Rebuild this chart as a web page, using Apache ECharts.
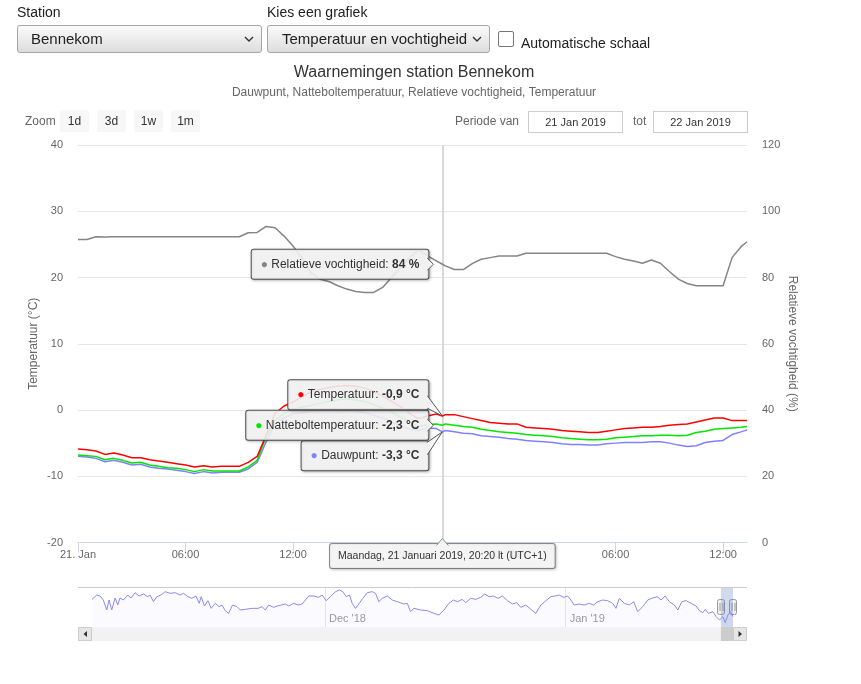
<!DOCTYPE html>
<html><head><meta charset="utf-8"><title>Waarnemingen station Bennekom</title>
<script src="https://cdn.jsdelivr.net/npm/echarts@6.0.0/dist/echarts.min.js"></script>
<style>
html,body{margin:0;padding:0;background:#fff;}
body{width:861px;height:684px;position:relative;overflow:hidden;font-family:'Liberation Sans',Arial,Helvetica,sans-serif;}
#chart{position:absolute;left:0;top:0;width:861px;height:684px;}
.abs{position:absolute;white-space:nowrap;}
.lab{font-size:14px;color:#222;line-height:16px;}
.sel{box-sizing:border-box;height:28px;top:25px;border:1px solid #a6a6a6;border-radius:3px;background:linear-gradient(#fbfbfb,#dddddd);font-size:15px;color:#222;line-height:26px;}
.sel svg{position:absolute;top:10px;}
.btn{top:110px;width:29px;height:22px;line-height:22px;background:#f7f7f7;border-radius:2px;text-align:center;font-size:12px;color:#333;}
.inp{top:111px;box-sizing:border-box;width:95px;height:22px;border:1px solid #cccccc;text-align:center;font-size:11px;line-height:20px;color:#333;background:#fff;}
.rs{font-size:12px;color:#666;line-height:14px;top:114px;}
</style></head>
<body>
<div id="chart"></div>
<div class="abs lab" style="left:17px;top:4px">Station</div>
<div class="abs lab" style="left:267px;top:4px">Kies een grafiek</div>
<div class="abs sel" style="left:17px;width:245px;padding-left:13px">Bennekom<svg style="left:226px" width="10" height="7"><polyline points="1,1 5,5 9,1" fill="none" stroke="#333" stroke-width="1.4"/></svg></div>
<div class="abs sel" style="left:267px;width:223px;padding-left:14px">Temperatuur en vochtigheid<svg style="left:204px" width="10" height="7"><polyline points="1,1 5,5 9,1" fill="none" stroke="#333" stroke-width="1.4"/></svg></div>
<div class="abs" style="left:498px;top:31px;width:16px;height:16px;box-sizing:border-box;border:1px solid #767676;border-radius:2px;background:#fff"></div>
<div class="abs lab" style="left:521px;top:35px">Automatische schaal</div>
<div class="abs rs" style="left:25px">Zoom</div>
<div class="abs btn" style="left:60px">1d</div>
<div class="abs btn" style="left:97px">3d</div>
<div class="abs btn" style="left:134px">1w</div>
<div class="abs btn" style="left:171px">1m</div>
<div class="abs rs" style="left:455px">Periode van</div>
<div class="abs inp" style="left:528px">21 Jan 2019</div>
<div class="abs rs" style="left:633px">tot</div>
<div class="abs inp" style="left:653px">22 Jan 2019</div>
<script>
// ---------- data (hours since 21 Jan 2019 00:00) ----------
const hours = [0,0.5,1,1.5,2,2.5,3,3.5,4,4.5,5,5.5,6,6.5,7,7.5,8,8.5,9,9.5,10,10.5,11,11.5,12,12.5,13,13.5,14,14.5,15,15.5,16,16.5,17,17.5,18,18.5,19,19.5,20,20.3333,20.5,21,21.5,22,22.5,23,23.5,24,24.5,25,25.5,26,26.5,27,27.5,28,28.5,29,29.5,30,30.5,31,31.5,32,32.5,33,33.5,34,34.5,35,35.5,36,36.5,37,37.3333];
const temperatuur = [-5.9,-6.0,-6.2,-6.7,-6.5,-6.8,-7.2,-7.2,-7.5,-7.7,-7.9,-8.1,-8.3,-8.6,-8.4,-8.6,-8.5,-8.5,-8.5,-7.9,-7.0,-3.8,-0.5,0.6,1.2,2.0,2.7,3.1,3.4,3.6,3.7,3.6,3.3,2.8,2.1,1.3,0.5,-0.5,-1.3,-0.9,-0.6,-0.9,-0.7,-0.7,-1.0,-1.3,-1.6,-1.9,-2.0,-2.1,-2.1,-2.6,-2.7,-2.8,-2.9,-3.1,-3.2,-3.3,-3.4,-3.4,-3.2,-3.0,-2.8,-2.7,-2.6,-2.6,-2.5,-2.3,-2.2,-2.1,-1.8,-1.5,-1.2,-1.2,-1.6,-1.6,-1.6];
const nattebol = [-6.8,-6.9,-7.0,-7.5,-7.3,-7.6,-8.0,-7.9,-8.3,-8.5,-8.7,-8.8,-9.0,-9.3,-9.0,-9.2,-9.2,-9.2,-9.2,-8.6,-7.6,-4.0,-1.6,-0.5,0.1,0.4,0.7,1.0,1.3,1.5,1.7,1.5,1.3,0.8,0.3,-0.3,-1.1,-1.8,-2.5,-2.2,-2.1,-2.3,-2.1,-2.3,-2.5,-2.6,-2.9,-3.1,-3.3,-3.4,-3.5,-3.7,-3.8,-3.9,-4.0,-4.2,-4.3,-4.4,-4.5,-4.5,-4.4,-4.2,-4.1,-4.0,-3.9,-3.9,-3.8,-3.8,-3.9,-3.8,-3.4,-3.2,-2.9,-2.8,-2.7,-2.6,-2.5];
const dauwpunt = [-7.0,-7.1,-7.3,-7.8,-7.6,-7.9,-8.3,-8.2,-8.6,-8.8,-8.9,-9.1,-9.3,-9.6,-9.3,-9.5,-9.4,-9.4,-9.4,-8.9,-7.9,-4.8,-2.1,-1.2,-0.6,-0.4,-0.2,0.1,0.1,0.0,-0.1,-0.2,-0.4,-0.8,-1.2,-1.8,-2.4,-2.9,-3.1,-2.7,-2.8,-3.3,-3.1,-3.3,-3.5,-3.6,-3.9,-4.0,-4.1,-4.3,-4.4,-4.6,-4.7,-4.8,-4.9,-5.1,-5.2,-5.2,-5.3,-5.3,-5.1,-5.0,-4.9,-4.9,-4.9,-4.8,-4.8,-5.0,-5.3,-5.5,-5.4,-4.9,-4.7,-4.6,-3.7,-3.3,-3.0];
const vochtigheid = [91.5,91.5,92.3,92.2,92.3,92.3,92.3,92.3,92.3,92.3,92.3,92.3,92.3,92.3,92.3,92.3,92.3,92.3,92.3,93.5,93.6,95.4,95.0,92.5,89.5,85.8,81.5,79.5,78.8,77.5,76.5,75.8,75.5,75.5,77.0,80.0,83.0,86.0,88.3,86.5,85.0,84.0,83.5,82.4,82.4,84.2,85.5,86.0,86.5,86.5,86.5,87.3,87.3,87.3,87.3,87.3,87.3,87.3,87.3,87.3,87.3,86.3,85.5,85.0,84.3,85.3,84.3,81.8,79.5,78.2,77.5,77.5,77.5,77.5,86.0,89.3,90.8];
const xMax = 37.3333;
const xTickValues = [0, 6, 12, 18, 24, 30, 36];
const xTickLabels = ['21. Jan', '06:00', '12:00', '18:00', '22. Jan', '06:00', '12:00'];
const hoverHour = 20.3333;
const hoverLabel = 'Maandag, 21 Januari 2019, 20:20 lt (UTC+1)';
// navigator: days since 1 Nov 2018
const navDays = [0.0,0.61,1.03,1.46,1.90,2.19,2.54,2.97,3.32,3.61,4.04,4.61,5.03,5.55,6.06,6.62,7.19,7.48,7.91,8.35,8.90,9.42,10.06,10.71,11.35,11.78,12.35,12.86,13.38,13.81,14.06,14.49,14.93,15.35,15.87,16.39,16.74,17.16,17.59,18.10,18.67,19.10,19.74,20.61,21.38,21.90,22.32,22.75,23.39,23.83,24.39,24.90,25.33,25.97,26.54,27.06,27.48,27.91,28.55,29.20,29.64,30.15,30.71,31.35,31.87,32.30,32.74,33.16,33.51,33.94,34.36,34.88,35.45,36.09,36.52,36.94,37.38,38.03,38.67,39.32,40.17,40.61,41.03,41.46,42.32,43.19,44.04,44.68,45.33,45.97,46.54,47.06,47.70,48.13,48.77,49.42,50.06,50.58,51.14,51.70,52.30,52.86,53.51,54.15,54.71,55.23,55.87,56.52,57.16,57.81,58.45,59.10,59.61,60.17,60.74,61.25,61.68,62.10,62.75,63.39,64.04,64.61,65.12,65.77,66.41,67.06,67.48,67.91,68.55,69.20,69.77,70.28,70.93,71.57,72.09,72.77,73.29,73.81,74.36,75.01,75.45,75.96,76.52,77.16,77.81,78.23,78.67,78.97,79.39,79.96,80.39,80.81,81.25,81.55,81.90,82.24,82.55];
const navValues = [4.2,6.8,6.2,3.8,-2.2,3.8,-2.2,5.0,0.8,5.0,3.8,6.8,5.0,8.2,6.2,7.4,5.8,6.8,2.8,5.8,6.8,8.8,7.8,8.2,6.8,7.8,5.8,4.8,6.2,1.8,5.8,0.2,3.4,-1.2,1.8,-0.2,0.8,-2.6,-4.2,0.8,-0.2,-2.2,-1.8,-1.2,-1.2,-0.2,-2.2,0.8,-0.6,0.2,0.8,1.4,0.2,1.8,0.8,1.4,3.8,6.2,6.2,5.4,6.8,3.4,5.8,8.8,9.8,8.8,5.8,6.8,1.8,-1.2,1.4,4.8,8.2,8.8,7.8,2.8,4.8,6.2,3.8,2.8,1.4,1.8,-3.2,-1.2,-2.2,-2.6,-4.2,-5.2,-2.2,1.8,3.8,2.8,4.2,2.2,4.8,4.2,5.4,7.4,5.8,6.2,4.8,6.2,3.4,1.4,2.2,-0.6,0.8,-1.8,-4.2,0.8,3.4,5.8,6.2,6.8,5.4,6.2,3.8,0.8,1.4,0.8,1.8,0.8,2.8,3.8,3.4,1.8,-1.2,4.8,1.8,0.8,2.8,-3.2,-0.2,3.8,4.8,5.8,3.8,6.2,2.8,0.8,-2.2,2.8,3.4,1.8,0.2,-2.6,-3.8,-1.8,-4.2,-3.2,-6.2,-8.2,-6.2,-9.8,-5.2,-3.2,-6.2];
const navMax = 82.5556;
const navTickDays = [30, 61];
const navTickLabels = ["Dec '18", "Jan '19"];
const navSelStart = 81;
const navSelEnd = 82.5556;

// ---------- chart ----------
const FONT = "'Liberation Sans', Arial, Helvetica, sans-serif";
const chart = echarts.init(document.getElementById('chart'), null, {renderer: 'canvas'});
const pair = vals => hours.map((h, i) => [h, vals[i]]);
const lineSeries = (name, vals, color, yIdx) => ({
  name, type: 'line', xAxisIndex: 0, yAxisIndex: yIdx, data: pair(vals),
  symbol: 'none', showSymbol: false, silent: true, animation: false,
  lineStyle: {color, width: 1.5}, itemStyle: {color}
});
const COL = {T: '#ff0000', N: '#00e600', D: '#8080ff', R: '#858585'};

const sD = lineSeries('Dauwpunt', dauwpunt, COL.D, 0);
sD.markLine = {silent: true, z: 1, symbol: ['none', 'none'], animation: false,
  label: {show: false}, lineStyle: {color: '#d9d9d9', width: 2, type: 'solid'},
  data: [{xAxis: hoverHour}]};

const option = {
  animation: false,
  textStyle: {fontFamily: FONT},
  title: [
    {text: 'Waarnemingen station Bennekom', left: 414, top: 64, textAlign: 'center', padding: 0,
     textStyle: {fontSize: 16, fontWeight: 'normal', color: '#333', lineHeight: 18, fontFamily: FONT}},
    {text: 'Dauwpunt, Natteboltemperatuur, Relatieve vochtigheid, Temperatuur', left: 414, top: 86, textAlign: 'center', padding: 0,
     textStyle: {fontSize: 12, fontWeight: 'normal', color: '#666', lineHeight: 14, fontFamily: FONT}}
  ],
  grid: [
    {left: 78, top: 145, width: 669, height: 397.5},
    {left: 92, top: 587, width: 641, height: 40}
  ],
  xAxis: [
    {type: 'value', gridIndex: 0, min: 0, max: xMax, interval: 6, position: 'bottom',
     axisLine: {show: true, onZero: false, lineStyle: {color: '#ccd6eb', width: 1}},
     axisTick: {show: true, length: 10, customValues: xTickValues, lineStyle: {color: '#ccd6eb'}},
     axisLabel: {customValues: xTickValues, color: '#666', fontSize: 11, margin: 7, fontFamily: FONT,
       formatter: v => { const k = xTickValues.indexOf(v); return k < 0 ? '' : xTickLabels[k]; }},
     splitLine: {show: false}},
    {type: 'value', gridIndex: 1, min: 0, max: navMax, position: 'bottom',
     axisLine: {show: false, onZero: false}, axisTick: {show: false}, splitLine: {show: false},
     axisLabel: {customValues: navTickDays, inside: true, align: 'left', padding: [0, 0, 0, 4], margin: 3,
       color: '#999', fontSize: 11, fontFamily: FONT,
       formatter: v => { const k = navTickDays.indexOf(v); return k < 0 ? '' : navTickLabels[k]; }}}
  ],
  yAxis: [
    {type: 'value', gridIndex: 0, min: -20, max: 40, interval: 10,
     name: 'Temperatuur (°C)', nameLocation: 'middle', nameGap: 38, nameRotate: 90, nameMoveOverlap: false,
     nameTextStyle: {color: '#666', fontSize: 12, fontFamily: FONT},
     axisLine: {show: false}, axisTick: {show: false},
     axisLabel: {color: '#666', fontSize: 11, margin: 15, fontFamily: FONT},
     splitLine: {show: true, lineStyle: {color: '#e6e6e6', width: 1}}},
    {type: 'value', gridIndex: 0, min: 0, max: 120, interval: 20, position: 'right',
     name: 'Relatieve vochtigheid (%)', nameLocation: 'middle', nameGap: 39, nameRotate: -90, nameMoveOverlap: false,
     nameTextStyle: {color: '#666', fontSize: 12, fontFamily: FONT},
     axisLine: {show: false}, axisTick: {show: false},
     axisLabel: {color: '#666', fontSize: 11, margin: 15, fontFamily: FONT},
     splitLine: {show: false}},
    {type: 'value', gridIndex: 1, min: -12.4, max: 11.6, show: false,
     axisLine: {show: false}, axisTick: {show: false}, axisLabel: {show: false}, splitLine: {show: false}}
  ],
  series: [
    sD,
    lineSeries('Natteboltemperatuur', nattebol, COL.N, 0),
    lineSeries('Relatieve vochtigheid', vochtigheid, COL.R, 1),
    lineSeries('Temperatuur', temperatuur, COL.T, 0),
    {name: 'navigator', type: 'line', xAxisIndex: 1, yAxisIndex: 2,
     data: navDays.map((d, i) => [d, navValues[i]]),
     symbol: 'none', showSymbol: false, silent: true, animation: false,
     lineStyle: {color: '#8a8af0', width: 1}, itemStyle: {color: '#8a8af0'},
     areaStyle: {color: 'rgba(128,128,255,0.06)', origin: 'start'},
     markLine: {silent: true, z: 1, symbol: ['none', 'none'], animation: false, label: {show: false},
       lineStyle: {color: '#e6e6e6', width: 1, type: 'solid'},
       data: navTickDays.map(d => ({xAxis: d}))},
     markArea: {silent: true, animation: false, itemStyle: {color: 'rgba(102,133,194,0.3)'},
       data: [[{xAxis: navSelStart}, {xAxis: navSelEnd}]]}}
  ]
};
chart.setOption(option);

// ---------- split tooltip (annotations at the hovered time) ----------
const idx = hours.indexOf(hoverHour);
const toPx = (xi, yi, x, y) => chart.convertToPixel({xAxisIndex: xi, yAxisIndex: yi}, [x, y]);
const pD = toPx(0, 0, hoverHour, dauwpunt[idx]);
const pN = toPx(0, 0, hoverHour, nattebol[idx]);
const pT = toPx(0, 0, hoverHour, temperatuur[idx]);
const pR = toPx(0, 1, hoverHour, vochtigheid[idx]);
const pB = toPx(0, 1, hoverHour, 0);
const STEP = 30.5, HALF = 14.5, GAP = 14;
const cN = pN[1], cT = cN - STEP, cD = cN + STEP, cR = pR[1];
const R = pN[0] - GAP;
const fmt = v => v.toFixed(1).replace('.', ',');
const BORDER = '#555';
const boxLabel = (color, text, dy) => ({
  show: true, position: 'left', distance: GAP - 0.5, offset: [0, dy],
  formatter: '{d|\u25CF} {t|' + text[0] + '}{b|' + text[1] + '}',
  backgroundColor: 'rgba(247,247,247,0.88)', borderColor: BORDER, borderWidth: 1, borderRadius: 2,
  padding: [7, 9], lineHeight: 15, fontSize: 12, color: '#333', fontFamily: FONT,
  shadowColor: 'rgba(0,0,0,0.25)', shadowBlur: 3, shadowOffsetX: 1, shadowOffsetY: 1,
  rich: {
    d: {color, fontSize: 12, lineHeight: 15, fontFamily: FONT},
    t: {color: '#333', fontSize: 12, lineHeight: 15, fontFamily: FONT},
    b: {color: '#333', fontSize: 12, lineHeight: 15, fontWeight: 'bold', fontFamily: FONT}
  }
});
const mp = (coord, label) => ({coord, symbol: 'circle', symbolSize: 1, itemStyle: {color: 'rgba(0,0,0,0)'}, label});
const mpOpt = data => ({silent: true, animation: false, z: 10, data});

const dateLabel = {
  show: true, position: 'bottom', distance: 1, formatter: hoverLabel,
  backgroundColor: 'rgba(247,247,247,0.9)', borderColor: '#8c8c8c', borderWidth: 1, borderRadius: 2,
  padding: [5, 8], lineHeight: 14, fontSize: 10.5, color: '#333', fontFamily: FONT,
  shadowColor: 'rgba(0,0,0,0.2)', shadowBlur: 3, shadowOffsetX: 1, shadowOffsetY: 1
};

const notch = (pts, stroke) => [
  {type: 'polygon', z: 100, silent: true, shape: {points: pts}, style: {fill: 'rgba(247,247,247,0.95)', stroke: null}},
  {type: 'polyline', z: 101, silent: true, shape: {points: pts}, style: {stroke, lineWidth: 1, fill: null}}
];
const s0 = toPx(1, 2, navSelStart, 0)[0];
const s1 = toPx(1, 2, navSelEnd, 0)[0];
const handle = x => ({type: 'group', z: 100, silent: true, children: [
  {type: 'rect', shape: {x: Math.round(x) - 4 + 0.5, y: 599.5, width: 7, height: 15, r: 2}, style: {fill: '#f2f2f2', stroke: '#999', lineWidth: 1}},
  {type: 'line', shape: {x1: Math.round(x) - 1, y1: 603, x2: Math.round(x) - 1, y2: 611}, style: {stroke: '#999', lineWidth: 1}},
  {type: 'line', shape: {x1: Math.round(x) + 2, y1: 603, x2: Math.round(x) + 2, y2: 611}, style: {stroke: '#999', lineWidth: 1}}
]});
const dTop = pB[1] + 2;
const graphics = [].concat(
  notch([[R - 1, cR - 6], [R + 5, cR], [R - 1, cR + 6]], BORDER),
  notch([[R - 1, cN - 6], [R + 5, cN], [R - 1, cN + 6]], BORDER),
  notch([[R - 1, cT + 1], [pT[0], pT[1]], [R - 1, cT + HALF - 1]], BORDER),
  notch([[R - 1, cD - HALF + 1], [pD[0], pD[1]], [R - 1, cD - 1]], BORDER),
  notch([[pB[0] - 6, dTop + 1], [pB[0], dTop - 6], [pB[0] + 6, dTop + 1]], '#8c8c8c'),
  [
    {type: 'line', silent: true, z: 50, shape: {x1: 78, y1: 587.5, x2: 747, y2: 587.5}, style: {stroke: '#cccccc', lineWidth: 1}},
    {type: 'rect', silent: true, z: 50, shape: {x: 78, y: 627, width: 669, height: 14}, style: {fill: '#f2f2f2'}},
    {type: 'rect', silent: true, z: 51, shape: {x: 78.5, y: 627.5, width: 13, height: 13}, style: {fill: '#e6e6e6', stroke: '#cccccc'}},
    {type: 'polygon', silent: true, z: 52, shape: {points: [[87, 631], [87, 637], [83.5, 634]]}, style: {fill: '#333'}},
    {type: 'rect', silent: true, z: 51, shape: {x: s0, y: 627, width: Math.max(s1 - s0, 12), height: 14}, style: {fill: '#cccccc'}},
    {type: 'rect', silent: true, z: 51, shape: {x: 733.5, y: 627.5, width: 13, height: 13}, style: {fill: '#e6e6e6', stroke: '#cccccc'}},
    {type: 'polygon', silent: true, z: 52, shape: {points: [[738.5, 631], [738.5, 637], [742, 634]]}, style: {fill: '#333'}},
    handle(s0), handle(s1)
  ]
);

chart.setOption({
  series: [
    {name: 'Dauwpunt', markPoint: mpOpt([mp([hoverHour, dauwpunt[idx]], boxLabel(COL.D, ['Dauwpunt: ', fmt(dauwpunt[idx]) + ' °C'], cD - pD[1]))])},
    {name: 'Natteboltemperatuur', markPoint: mpOpt([mp([hoverHour, nattebol[idx]], boxLabel(COL.N, ['Natteboltemperatuur: ', fmt(nattebol[idx]) + ' °C'], cN - pN[1]))])},
    {name: 'Relatieve vochtigheid', markPoint: mpOpt([
      mp([hoverHour, vochtigheid[idx]], boxLabel(COL.R, ['Relatieve vochtigheid: ', Math.round(vochtigheid[idx]) + ' %'], cR - pR[1])),
      mp([hoverHour, 0], dateLabel)
    ])},
    {name: 'Temperatuur', markPoint: mpOpt([mp([hoverHour, temperatuur[idx]], boxLabel(COL.T, ['Temperatuur: ', fmt(temperatuur[idx]) + ' °C'], cT - pT[1]))])}
  ],
  graphic: graphics
});
</script>
</body></html>
